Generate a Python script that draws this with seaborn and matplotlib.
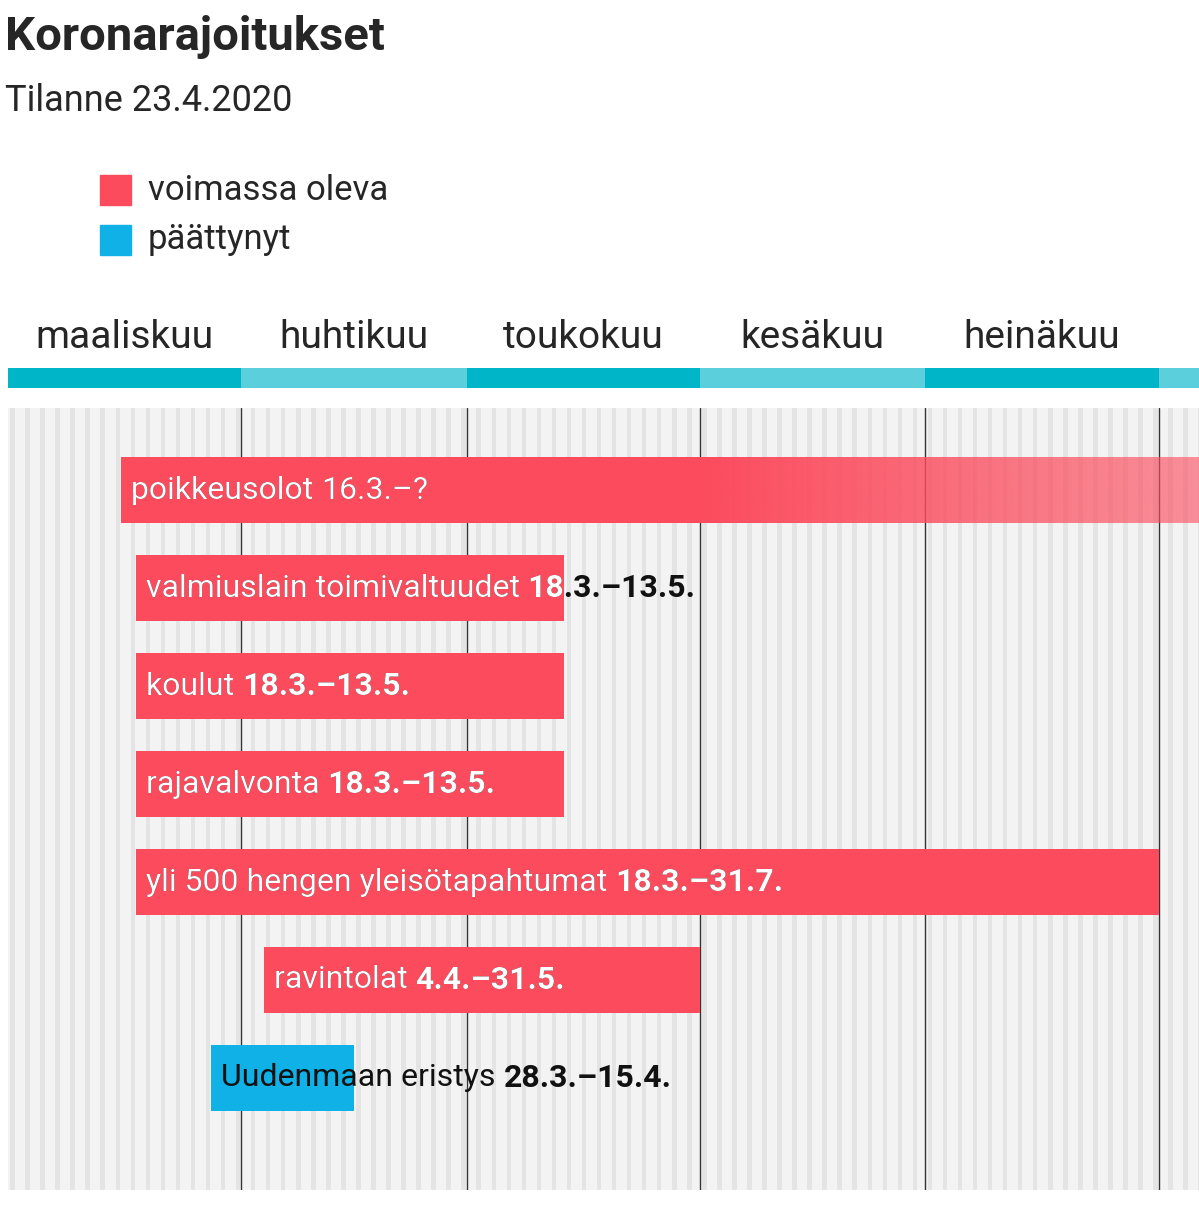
import matplotlib.pyplot as plt
import matplotlib.patches as mpatches
import numpy as np
import seaborn as sns

sns.set_style("white")
plt.rcParams["font.family"] = "Roboto"

# days counted from 1 March 2020 (end = exclusive)
names = ["poikkeusolot", "valmiuslain toimivaltuudet", "koulut", "rajavalvonta",
         "yli 500 hengen yleisötapahtumat", "ravintolat", "Uudenmaan eristys"]
dates = ["16.3.–?", "18.3.–13.5.", "18.3.–13.5.", "18.3.–13.5.",
         "18.3.–31.7.", "4.4.–31.5.", "28.3.–15.4."]
starts = [15, 17, 17, 17, 17, 34, 27]
ends = [None, 74, 74, 74, 153, 92, 46]
ended = [False, False, False, False, False, False, True]
months = ["maaliskuu", "huhtikuu", "toukokuu", "kesäkuu", "heinäkuu"]
month_starts = [0, 31, 61, 92, 122, 153]

RED, BLUE = "#fc4b5d", "#0fb1e6"
W, H = 1199, 1217
X0, PXD = 8, 7.52
xmax = (W - X0) / PXD

fig = plt.figure(figsize=(W / 100, H / 100), dpi=100)

def ax_px(x0, y0, x1, y1):
    return fig.add_axes([x0 / W, 1 - y1 / H, (x1 - x0) / W, (y1 - y0) / H])

fig.text(5 / W, 1 - 37 / H, "Koronarajoitukset", fontsize=34, weight="bold", va="center")
fig.text(5 / W, 1 - 101 / H, "Tilanne 23.4.2020", fontsize=26, va="center")
for i, (lab, c) in enumerate([("voimassa oleva", RED), ("päättynyt", BLUE)]):
    yc = 190 + 50 * i
    fig.patches.append(mpatches.Rectangle((100 / W, 1 - (yc + 15) / H), 31 / W, 30 / H,
                                          color=c, transform=fig.transFigure))
    fig.text(148 / W, 1 - yc / H, lab, fontsize=25, va="center")

# month header
hax = ax_px(X0, 368, W, 388)
hax.set_xlim(0, xmax)
hax.set_ylim(0, 1)
hax.axis("off")
for i, m in enumerate(months + [""]):
    a = month_starts[i]
    b = month_starts[i + 1] if i + 1 < len(month_starts) else xmax
    hax.axvspan(a, b, color="#00b5c8" if i % 2 == 0 else "#5ccfdc", lw=0)
    if m:
        hax.text((a + b) / 2, 2.5, m, ha="center", va="center", fontsize=28)

# main axis
ax = ax_px(X0, 408, W, 1190)
ax.set_xlim(0, xmax)
ax.set_ylim(7.143, -0.837)
ax.axis("off")
ax.axvspan(0, xmax, color="#f3f3f3", lw=0, zorder=0)
for d in range(0, int(xmax) + 1, 2):
    ax.axvspan(d + 0.3, d + 0.9, color="#e4e4e4", lw=0, zorder=0)
for m in month_starts[1:]:
    ax.axvline(m, color="#333333", lw=1, zorder=1)

hgt = 0.673
for i in range(len(names)):
    s, e = starts[i], ends[i]
    col = BLUE if ended[i] else RED
    if e is None:
        e = xmax
        fade_start = 92
        ax.barh(i, fade_start - s, left=s, height=hgt, color=col, lw=0, zorder=2)
        grad = np.linspace(1, 0.6, 200)[None, :]
        rgba = np.zeros((1, 200, 4))
        rgba[..., :3] = plt.matplotlib.colors.to_rgb(col)
        rgba[..., 3] = grad
        ax.imshow(rgba, extent=(fade_start, e, i + hgt / 2, i - hgt / 2), aspect="auto", zorder=2)
        rect = mpatches.Rectangle((s, i - hgt / 2), e - s, hgt, transform=ax.transData)
    else:
        bars = ax.barh(i, e - s, left=s, height=hgt, color=col, lw=0, zorder=2)
        rect = bars[0]
    tx = s + 10 / PXD
    for color, clip in (("#111111", None), ("white", rect)):
        if ended[i] and color == "white":
            continue
        t1 = ax.text(tx, i, names[i] + " ", fontsize=23, color=color, va="center", zorder=3)
        bold = i != 0
        t2 = ax.annotate(dates[i], xycoords=t1, xy=(1, 0.5), va="center", fontsize=23,
                         color=color, weight="bold" if bold else "normal", zorder=3)
        if clip is not None:
            t1.set_clip_path(clip)
            t2.set_clip_path(clip)
ax.set_xlim(0, xmax)
ax.set_ylim(7.143, -0.837)

fig.savefig("out.png", dpi=100)
